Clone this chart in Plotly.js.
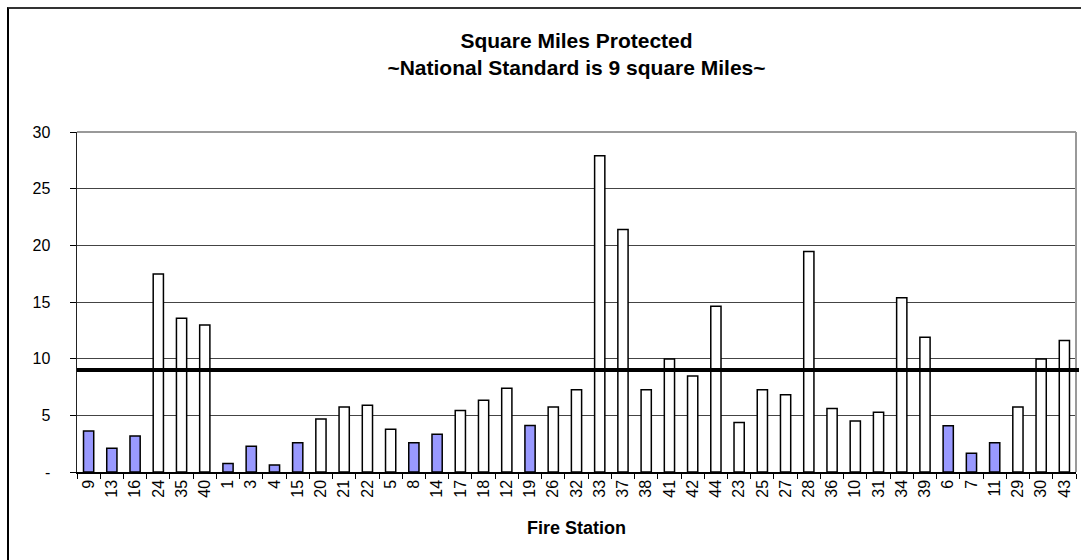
<!DOCTYPE html>
<html>
<head>
<meta charset="utf-8">
<script src="https://cdn.plot.ly/plotly-3.0.1.min.js"></script>
<style>
  html, body { margin: 0; padding: 0; background: #fff; overflow: hidden; }
  #wrap { position: relative; width: 1081px; height: 560px; }
  #chart { width: 1081px; height: 560px; }
  #frame { position: absolute; left: 7px; top: 7px; width: 1200px; height: 700px;
           border-top: 2px solid #333; border-left: 2px solid #000; pointer-events: none; }
</style>
</head>
<body>
<div id="wrap">
  <div id="chart"></div>
  <div id="frame"></div>
</div>
<script>
// Data
const stations = ['9','13','16','24','35','40','1','3','4','15','20','21','22','5','8','14','17','18','12','19',
                  '26','32','33','37','38','41','42','44','23','25','27','28','36','10','31','34','39','6','7','11',
                  '29','30','43'];
const squareMiles = [3.62, 2.09, 3.18, 17.47, 13.56, 12.97, 0.76, 2.27, 0.62, 2.59, 4.68, 5.74, 5.88, 3.78, 2.57, 3.33,
                     5.42, 6.34, 7.40, 4.10, 5.74, 7.25, 27.9, 21.4, 7.25, 9.97, 8.47, 14.62, 4.36, 7.25, 6.81, 19.46,
                     5.60, 4.51, 5.28, 15.37, 11.9, 4.07, 1.65, 2.57, 5.74, 9.97, 11.6];
const shadedStations = ['9','13','16','1','3','4','15','8','14','19','6','7','11'];
const nationalStandard = 9;
const yTickVals = [0, 5, 10, 15, 20, 25, 30];
const yTickText = ['-', '5', '10', '15', '20', '25', '30'];

const colors = stations.map(s => shadedStations.includes(s) ? '#9999FF' : '#FFFFFF');

const FONT = 'Liberation Sans, Arial, sans-serif';

const trace = {
  type: 'bar',
  x: stations,
  y: squareMiles,
  marker: { color: colors, line: { color: '#000', width: 1.5 } },
  hoverinfo: 'x+y'
};

const layout = {
  width: 1081, height: 560,
  margin: { l: 77, r: 5, t: 132, b: 88, pad: 0 },
  paper_bgcolor: '#fff', plot_bgcolor: '#fff',
  showlegend: false,
  bargap: 0.56,
  title: {
    text: 'Square Miles Protected<br>~National Standard is 9 square Miles~',
    font: { family: FONT, size: 21, color: '#000', weight: 'bold' },
    x: 0.5, xref: 'paper', xanchor: 'center',
    y: 1 - 48 / 560, yref: 'container', yanchor: 'top'
  },
  xaxis: {
    type: 'category',
    tickangle: -90,
    ticks: 'outside', ticklen: 5, tickcolor: '#000', tickwidth: 1,
    tickson: 'boundaries',
    tickfont: { family: FONT, size: 16, color: '#000' },
    showline: true, linecolor: '#000', linewidth: 1.5,
    showgrid: false, zeroline: false,
    automargin: false,
    title: { text: 'Fire Station', font: { family: FONT, size: 18, color: '#000', weight: 'bold' }, standoff: 24 }
  },
  yaxis: {
    range: [0, 30],
    tickvals: yTickVals, ticktext: yTickText,
    ticks: 'outside', ticklen: 6, tickcolor: '#000', tickwidth: 1,
    ticklabelstandoff: 16,
    tickfont: { family: FONT, size: 16, color: '#000' },
    showline: true, linecolor: '#222', linewidth: 1.5,
    showgrid: true, gridcolor: '#444', gridwidth: 1,
    zeroline: false,
    automargin: false
  },
  shapes: [
    { type: 'line', xref: 'paper', yref: 'paper', x0: 0, x1: 1, y0: 1, y1: 1,
      line: { color: '#999', width: 2 } },
    { type: 'line', xref: 'paper', yref: 'paper', x0: 1, x1: 1, y0: 0, y1: 1,
      line: { color: '#999', width: 2 } },
    { type: 'line', xref: 'paper', yref: 'y', x0: 0, x1: 1.003, y0: nationalStandard, y1: nationalStandard,
      line: { color: '#000', width: 4 }, layer: 'above' }
  ]
};

Plotly.newPlot('chart', [trace], layout, { displayModeBar: false, staticPlot: true });
</script>
</body>
</html>
